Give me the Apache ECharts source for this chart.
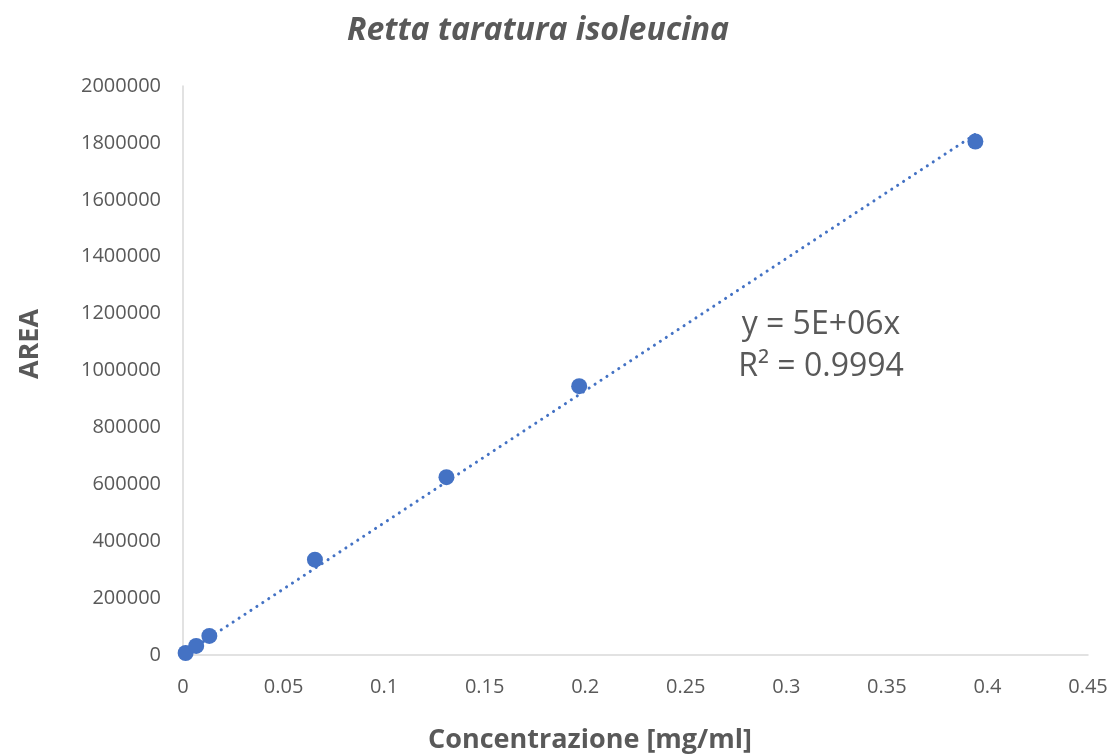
<!DOCTYPE html>
<html>
<head>
<meta charset="utf-8">
<script src="https://cdn.jsdelivr.net/npm/echarts@6/dist/echarts.min.js"></script>
<style>
  html, body { margin: 0; padding: 0; background: #ffffff; overflow: hidden; }
  #chart { width: 1113px; height: 756px; }
</style>
</head>
<body>
<div id="chart"></div>
<script>
// Calibration standards: concentration (mg/ml) and peak area
const concentrations = [0.00131, 0.00656, 0.0131, 0.0656, 0.131, 0.197, 0.394];
const areas = [7000, 32000, 67000, 335000, 625000, 945000, 1805000];

const xTicks = { min: 0, max: 0.45, interval: 0.05 };
const yTicks = { min: 0, max: 2000000, interval: 200000 };

const titleText = 'Retta taratura isoleucina';
const xAxisTitle = 'Concentrazione [mg/ml]';
const yAxisTitle = 'AREA';
const equationLines = ['y = 5E+06x', 'R² = 0.9994'];

// Linear trend through the origin (least squares, intercept fixed at 0)
let sxy = 0, sxx = 0;
for (let i = 0; i < concentrations.length; i++) {
  sxy += concentrations[i] * areas[i];
  sxx += concentrations[i] * concentrations[i];
}
const slope = sxy / sxx;
const xMin = Math.min(...concentrations);
const xMax = Math.max(...concentrations);
const trend = [[xMin, slope * xMin], [xMax, slope * xMax]];

const points = concentrations.map((c, i) => [c, areas[i]]);

const FONT = '"Open Sans", Lato, sans-serif';
const TEXT = '#595959';
const BLUE = '#4472C4';

const chart = echarts.init(document.getElementById('chart'), null, { renderer: 'canvas' });
chart.setOption({
  animation: false,
  backgroundColor: '#ffffff',
  title: {
    text: titleText,
    left: 533,
    textAlign: 'center',
    top: 10,
    textStyle: { fontFamily: FONT, fontSize: 32, fontWeight: 'bold', fontStyle: 'italic', color: TEXT }
  },
  grid: { left: 183, right: 25, top: 86, bottom: 101, containLabel: false, outerBoundsMode: 'none' },
  xAxis: {
    type: 'value',
    min: xTicks.min, max: xTicks.max, interval: xTicks.interval,
    axisLine: { show: true, lineStyle: { color: '#d9d9d9', width: 1.5 } },
    axisTick: { show: false },
    splitLine: { show: false },
    axisLabel: { fontFamily: FONT, fontSize: 20, color: TEXT, margin: 22, formatter: v => String(v) }
  },
  yAxis: {
    type: 'value',
    min: yTicks.min, max: yTicks.max, interval: yTicks.interval,
    axisLine: { show: true, lineStyle: { color: '#d9d9d9', width: 1.5 } },
    axisTick: { show: false },
    splitLine: { show: false },
    axisLabel: { fontFamily: FONT, fontSize: 20, color: TEXT, margin: 22, formatter: v => String(v) }
  },
  series: [
    {
      type: 'line',
      data: trend,
      showSymbol: false,
      symbol: 'none',
      z: 1,
      lineStyle: { color: BLUE, width: 3, type: [0.1, 7], cap: 'round' }
    },
    {
      type: 'scatter',
      data: points,
      symbolSize: 16,
      z: 2,
      itemStyle: { color: BLUE, opacity: 1 }
    }
  ],
  graphic: [
    {
      type: 'text',
      x: 821, y: 304,
      style: { text: equationLines.join('\n'), fontFamily: FONT, fontSize: 32, lineHeight: 42, fill: TEXT, align: 'center' }
    },
    {
      type: 'text',
      x: 590, y: 740,
      style: { text: xAxisTitle, fontFamily: FONT, fontSize: 27, fontWeight: 'bold', fill: TEXT, align: 'center', verticalAlign: 'middle' }
    },
    {
      type: 'text',
      x: 30, y: 344,
      rotation: Math.PI / 2,
      style: { text: yAxisTitle, fontFamily: FONT, fontSize: 27, fontWeight: 'bold', fill: TEXT, align: 'center', verticalAlign: 'middle' }
    }
  ]
});
</script>
</body>
</html>
